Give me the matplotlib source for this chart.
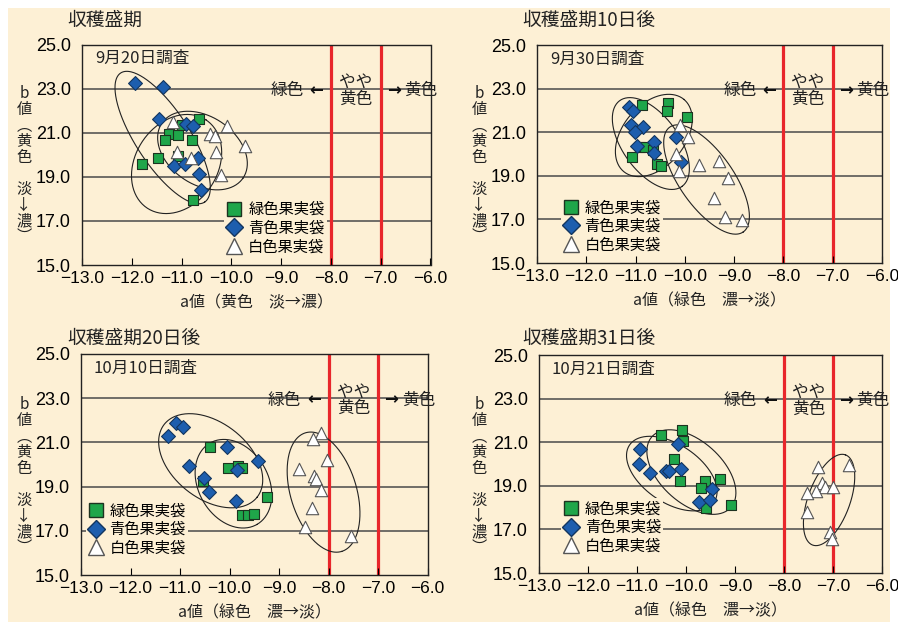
import numpy as np
import matplotlib.pyplot as plt
from matplotlib.lines import Line2D
from matplotlib.patches import Rectangle

plt.rcParams['font.family'] = ['Noto Sans CJK JP', 'DejaVu Sans']

W, H = 898, 630
BG = '#FDF0D5'

titles = ['収穫盛期', '収穫盛期10日後', '収穫盛期20日後', '収穫盛期31日後']
surveys = ['9月20日調査', '9月30日調査', '10月10日調査', '10月21日調査']
xlabels = ['a値（黄色　淡→濃）', 'a値（緑色　濃→淡）',
           'a値（緑色　濃→淡）', 'a値（緑色　濃→淡）']
bag_names = ['緑色果実袋', '青色果実袋', '白色果実袋']
ylabel_chars = ['b', '値', '︵', '黄', '色', '', '淡', '↓', '濃', '︶']

xticks = [-13, -12, -11, -10, -9, -8, -7, -6]
yticks = [15, 17, 19, 21, 23, 25]
zone_lines = [-8.0, -7.0]

# 収穫盛期 (9/20)
p1_green_a = [-10.64, -11.00, -11.25, -11.08, -11.33, -10.80, -11.47, -11.79, -11.08, -10.77]
p1_green_b = [21.64, 21.36, 20.96, 20.88, 20.67, 20.69, 19.83, 19.56, 19.95, 17.96]
p1_blue_a = [-11.93, -11.37, -11.46, -10.91, -10.78, -10.68, -11.15, -10.93, -10.64, -10.61]
p1_blue_b = [23.27, 23.07, 21.61, 21.38, 21.32, 19.87, 19.48, 19.59, 19.13, 18.39]
p1_white_a = [-11.18, -10.43, -10.33, -10.09, -9.73, -11.09, -10.82, -10.31, -10.20]
p1_white_b = [21.50, 20.93, 20.85, 21.30, 20.38, 20.11, 19.86, 20.11, 19.06]

# 10日後 (9/30)
p2_green_a = [-10.86, -10.35, -10.37, -9.95, -10.91, -10.80, -10.65, -11.07, -10.57, -10.49]
p2_green_b = [22.24, 22.32, 21.97, 21.71, 20.34, 20.34, 20.19, 19.86, 19.54, 19.47]
p2_blue_a = [-11.13, -11.06, -11.09, -10.84, -11.01, -10.98, -10.62, -10.62, -10.18, -10.08]
p2_blue_b = [22.15, 21.97, 21.33, 21.22, 21.02, 20.38, 20.57, 20.04, 20.76, 19.62]
p2_white_a = [-10.09, -9.93, -10.17, -10.11, -9.71, -9.31, -9.12, -9.40, -9.18, -8.84]
p2_white_b = [21.32, 20.76, 19.98, 19.23, 19.50, 19.68, 18.91, 17.97, 17.13, 16.95]

# 20日後 (10/10)
p3_green_a = [-10.39, -10.04, -9.83, -9.74, -10.54, -9.24, -9.75, -9.63, -9.50]
p3_green_b = [20.78, 19.83, 19.93, 19.84, 19.25, 18.52, 17.71, 17.71, 17.77]
p3_blue_a = [-11.25, -11.09, -10.94, -10.06, -10.81, -10.52, -10.41, -9.85, -9.86, -9.43]
p3_blue_b = [21.29, 21.89, 21.68, 20.81, 19.95, 19.40, 18.76, 19.75, 18.36, 20.16]
p3_white_a = [-8.16, -8.31, -8.03, -8.59, -8.30, -8.25, -8.16, -8.33, -8.48, -7.55]
p3_white_b = [21.41, 21.14, 20.20, 19.80, 19.49, 19.34, 18.83, 18.04, 17.18, 16.76]

# 31日後 (10/21)
p4_green_a = [-10.52, -10.09, -10.07, -10.24, -10.13, -9.61, -9.70, -9.30, -9.59, -9.08]
p4_green_b = [21.32, 21.54, 21.06, 20.24, 19.24, 19.24, 18.92, 19.32, 17.96, 18.10]
p4_blue_a = [-10.93, -10.17, -10.96, -10.73, -10.40, -10.35, -10.11, -9.46, -9.74, -9.52]
p4_blue_b = [20.70, 20.90, 20.01, 19.60, 19.68, 19.69, 19.76, 18.87, 18.26, 18.36]
p4_white_a = [-7.31, -6.67, -7.23, -7.17, -7.34, -7.01, -7.53, -7.53, -7.06, -7.03]
p4_white_b = [19.88, 19.95, 19.12, 18.94, 18.78, 18.94, 18.66, 17.79, 16.86, 16.56]

green = [(p1_green_a, p1_green_b), (p2_green_a, p2_green_b), (p3_green_a, p3_green_b), (p4_green_a, p4_green_b)]
blue = [(p1_blue_a, p1_blue_b), (p2_blue_a, p2_blue_b), (p3_blue_a, p3_blue_b), (p4_blue_a, p4_blue_b)]
white = [(p1_white_a, p1_white_b), (p2_white_a, p2_white_b), (p3_white_a, p3_white_b), (p4_white_a, p4_white_b)]

# ellipses: centre (a, b), semi axes in pixels, angle in degrees
ellipses = [
    [(-11.38, 20.78, 77, 27, -57), (-11.10, 19.58, 53, 41, 56), (-10.58, 20.19, 49, 34, -34)],
    [(-10.69, 20.48, 53, 28, -54), (-10.63, 20.85, 47, 31, 50), (-9.56, 18.83, 64, 27, -55)],
    [(-10.38, 20.17, 59, 38, -38), (-9.92, 19.13, 47, 35, -60), (-8.10, 18.75, 62, 33, -73)],
    [(-10.29, 19.56, 51, 29, -34), (-9.89, 19.63, 53, 31, -42), (-7.08, 18.35, 48, 21, 70)],
]

# layout in pixels: left, top, right, bottom
boxes = [(82, 44.5, 430.5, 265), (537, 45, 882, 263), (81, 354, 427.5, 575), (539, 355, 882, 573)]
title_pos = [(67, 20), (522, 20), (67, 338), (522, 338)]
ylab_pos = [(24, 165), (479, 165), (24, 476), (479, 476)]
legend_anchor = [(0.40, 0.02), (0.06, 0.02), (0.005, 0.06), (0.055, 0.06)]

fig = plt.figure(figsize=(W / 100, H / 100), dpi=100)
fig.patch.set_facecolor('white')
fig.patches.append(Rectangle((8 / W, 8 / H), 882 / W, 614 / H, transform=fig.transFigure,
                             facecolor=BG, edgecolor='none', zorder=-10))


def draw_ellipse(ax, ca, cb, r1, r2, ang):
    pos = ax.get_position()
    px_a = pos.width * W / 7
    px_b = pos.height * H / 10
    t = np.linspace(0, 2 * np.pi, 240)
    th = np.radians(ang)
    du = r1 * np.cos(t) * np.cos(th) - r2 * np.sin(t) * np.sin(th)
    dv = r1 * np.cos(t) * np.sin(th) + r2 * np.sin(t) * np.cos(th)
    ax.plot(ca + du / px_a, cb + dv / px_b, color='#222222', lw=0.8, zorder=2)


for i in range(4):
    l, t, r, b = boxes[i]
    ax = fig.add_axes([l / W, 1 - b / H, (r - l) / W, (b - t) / H])
    ax.set_facecolor(BG)
    ax.set_xlim(-13, -6)
    ax.set_ylim(15, 25)

    for y in yticks[1:-1]:
        ax.axhline(y, color='#4a4a4a', lw=1.1, zorder=1)
    for x in zone_lines:
        ax.axvline(x, color='#E8262B', lw=2.3, zorder=1)

    for e in ellipses[i]:
        draw_ellipse(ax, *e)

    ax.scatter(green[i][0], green[i][1], marker='s', s=62, color='#1FA64A',
               edgecolors='#1d3320', linewidths=0.8, zorder=3)
    ax.scatter(blue[i][0], blue[i][1], marker='D', s=50, color='#1D5EAE',
               edgecolors='#13365f', linewidths=0.8, zorder=4)
    ax.scatter(white[i][0], white[i][1], marker='^', s=80, color='white',
               edgecolors='#555555', linewidths=0.8, zorder=5)

    ax.set_xticks(xticks)
    ax.set_xticklabels(['\u2212%.1f' % abs(v) for v in xticks], family='Liberation Sans', fontsize=12.5)
    ax.set_yticks(yticks)
    ax.set_yticklabels(['%.1f' % v for v in yticks], family='Liberation Sans', fontsize=13)
    ax.tick_params(axis='x', direction='in', length=5, width=0.8, pad=4)
    ax.tick_params(axis='y', length=0, pad=8)
    for s in ax.spines.values():
        s.set_linewidth(1.0)
        s.set_color('#222222')

    ax.text(0.037, 0.935, surveys[i], transform=ax.transAxes, fontsize=12,
            ha='left', va='center', color='#222222')
    ax.text(-8.55, 22.9, '緑色', fontsize=12, ha='right', va='center', color='#222222')
    ax.text(-8.15, 22.95, '←', family='DejaVu Sans', fontweight='bold', fontsize=12,
            ha='right', va='center', color='#111111')
    ax.text(-7.5, 22.9, 'やや\n黄色', fontsize=12, ha='center', va='center',
            linespacing=0.95, color='#222222')
    ax.text(-6.88, 22.95, '→', family='DejaVu Sans', fontweight='bold', fontsize=12,
            ha='left', va='center', color='#111111')
    ax.text(-6.52, 22.9, '黄色', fontsize=12, ha='left', va='center',
            color='#222222', clip_on=False)

    handles = [
        Line2D([], [], marker='s', ls='none', markersize=10.5, color='#1FA64A', markeredgecolor='#1d3320'),
        Line2D([], [], marker='D', ls='none', markersize=9.5, color='#1D5EAE', markeredgecolor='#13365f'),
        Line2D([], [], marker='^', ls='none', markersize=12, color='white', markeredgecolor='#555555'),
    ]
    ax.legend(handles, bag_names, loc='lower left', bbox_to_anchor=legend_anchor[i],
              fontsize=11, frameon=True, facecolor=BG, edgecolor='none', framealpha=1,
              handlelength=1.0, handletextpad=0.4, labelspacing=0.1, borderpad=0.15,
              borderaxespad=0.2)

    tx, ty = title_pos[i]
    fig.text(tx / W, 1 - ty / H, titles[i], fontsize=13.5, ha='left', va='center', color='#222222')
    fig.text((l + r) / 2 / W, 1 - (b + 38) / H, xlabels[i], fontsize=11.5, ha='center',
             va='center', color='#222222')
    yx, yy = ylab_pos[i]
    fig.text(yx / W, 1 - yy / H, '\n'.join(ylabel_chars), fontsize=11, ha='center',
             va='center', linespacing=0.92, color='#222222')

fig.savefig('out.png', dpi=100, facecolor=fig.get_facecolor())
